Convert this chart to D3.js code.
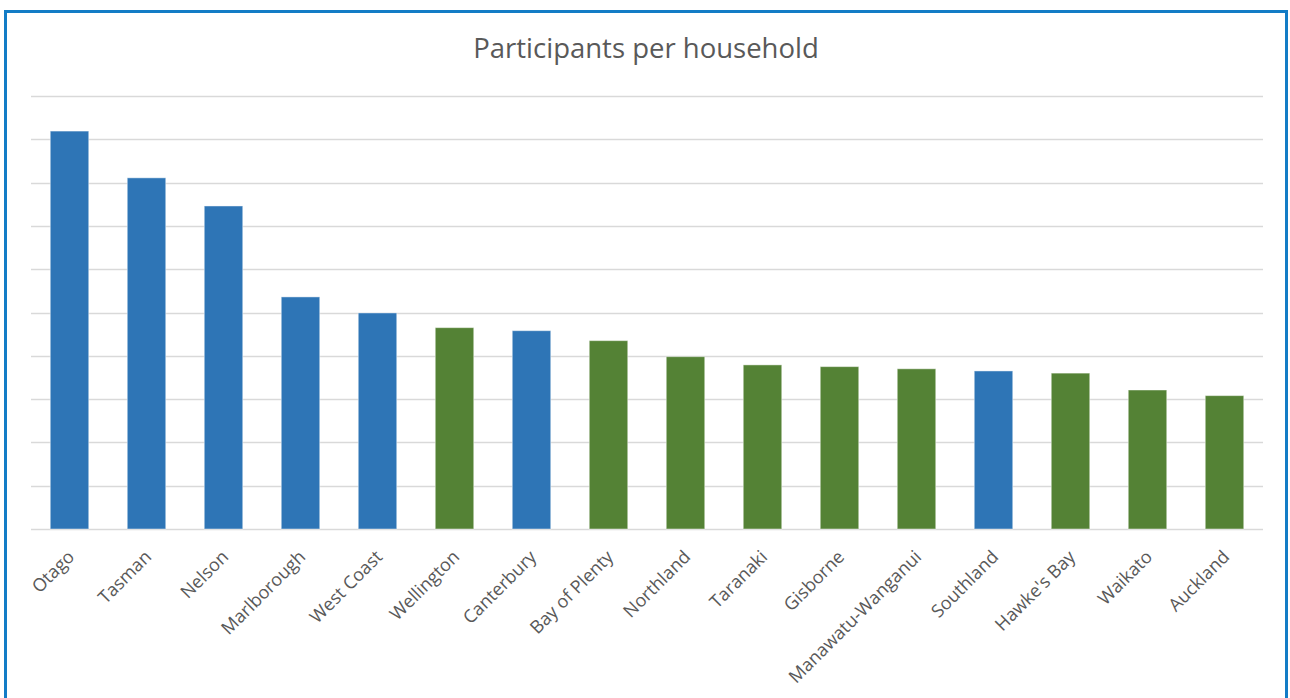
<!DOCTYPE html>
<html>
<head>
<meta charset="utf-8">
<script src="https://cdn.jsdelivr.net/npm/d3@7"></script>
<style>
  html, body { margin: 0; padding: 0; background: #fff; }
</style>
</head>
<body>
<div id="wrapper"></div>
<script>
// data
const regions = ["Otago", "Tasman", "Nelson", "Marlborough", "West Coast", "Wellington", "Canterbury",
  "Bay of Plenty", "Northland", "Taranaki", "Gisborne", "Manawatu-Wanganui", "Southland",
  "Hawke's Bay", "Waikato", "Auckland"];
const participants = [0.919, 0.811, 0.746, 0.536, 0.499, 0.465, 0.458, 0.435, 0.398, 0.379,
  0.375, 0.370, 0.365, 0.360, 0.321, 0.308];
// which series the bar belongs to (blue / green)
const groups = ["a", "a", "a", "a", "a", "b", "a", "b", "b", "b", "b", "b", "a", "b", "b", "b"];
const yTicks = [0, 0.1, 0.2, 0.3, 0.4, 0.5, 0.6, 0.7, 0.8, 0.9, 1.0];

const width = 1290, height = 698;
const margin = { top: 96, right: 27, bottom: 169, left: 31 };

const svg = d3.select("#wrapper").append("svg")
  .attr("width", width)
  .attr("height", height)
  .style("display", "block")
  .style("font-family", "'Open Sans', sans-serif");

// frame
svg.append("rect")
  .attr("x", 5.5).attr("y", 11.5)
  .attr("width", 1281).attr("height", 700)
  .attr("fill", "none")
  .attr("stroke", "#137CC6")
  .attr("stroke-width", 3);

svg.append("text")
  .attr("x", 646).attr("y", 58)
  .attr("text-anchor", "middle")
  .attr("fill", "#595959")
  .style("font-size", "27.5px")
  .text("Participants per household");

const x = d3.scaleBand()
  .domain(regions)
  .range([margin.left, width - margin.right])
  .paddingInner(0.5)
  .paddingOuter(0.25);

const y = d3.scaleLinear()
  .domain([0, 1])
  .range([height - margin.bottom, margin.top]);

const color = d3.scaleOrdinal(["a", "b"], ["#2E75B6", "#548235"]);

// gridlines
svg.append("g")
  .selectAll("line")
  .data(yTicks)
  .join("line")
  .attr("x1", margin.left)
  .attr("x2", width - margin.right)
  .attr("y1", d => Math.round(y(d)) + 0.5)
  .attr("y2", d => Math.round(y(d)) + 0.5)
  .attr("stroke", "#D9D9D9")
  .attr("stroke-width", 1.3);

// bars
svg.append("g")
  .selectAll("rect")
  .data(regions)
  .join("rect")
  .attr("x", d => x(d))
  .attr("width", x.bandwidth())
  .attr("y", (d, i) => y(participants[i]))
  .attr("height", (d, i) => y(0) - y(participants[i]))
  .attr("fill", (d, i) => color(groups[i]))
  .attr("stroke", "#ffffff")
  .attr("stroke-opacity", 0.45)
  .attr("stroke-width", 1);

// category labels
const xAxis = d3.axisBottom(x).tickSize(0).tickPadding(0);
const gx = svg.append("g")
  .attr("transform", `translate(0,${y(0)})`)
  .call(xAxis);
gx.select(".domain").remove();
gx.selectAll("text")
  .attr("fill", "#595959")
  .style("font-size", "18px")
  .style("font-family", "'Open Sans', sans-serif")
  .attr("text-anchor", "end")
  .attr("dy", null)
  .attr("y", 0)
  .attr("transform", "translate(6,29) rotate(-45)");
</script>
</body>
</html>
